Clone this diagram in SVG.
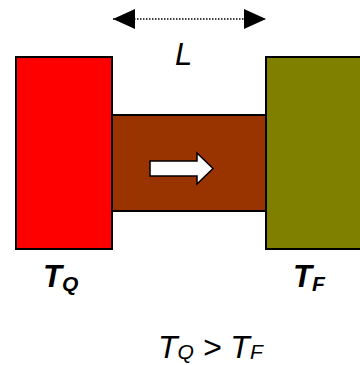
<svg xmlns="http://www.w3.org/2000/svg" width="360" height="365" viewBox="0 0 360 365">
<style>
.blk{stroke:#000;stroke-width:2}
.t{font-family:"Liberation Sans",Arial,sans-serif;font-style:italic;fill:#000}
.b{font-weight:bold}
</style>
<defs>
<marker id="ah" viewBox="0 0 22 20" refX="22" refY="10" markerWidth="22" markerHeight="20" markerUnits="userSpaceOnUse" orient="auto-start-reverse">
<path d="M0,0 L22,10 L0,20 Z" fill="#000"/>
</marker>
</defs>
<rect width="360" height="365" fill="#fff"/>
<g id="bar"><rect class="blk" x="112" y="115" width="154" height="96" fill="#993300"/></g>
<g id="hot"><rect class="blk" x="16" y="57" width="96" height="192" fill="#ff0000"/></g>
<g id="cold"><rect class="blk" x="266" y="57" width="100" height="192" fill="#808000"/></g>
<g id="flow"><path d="M150,161 H197 V153 L213,168.5 L197,184 V176 H150 Z" fill="#fff" stroke="#000" stroke-width="1.5"/></g>
<g id="connectors">
<line x1="113" y1="19" x2="266" y2="19" stroke="#000" stroke-width="1.5" stroke-dasharray="1.5,1.5" marker-start="url(#ah)" marker-end="url(#ah)"/>
</g>
<text class="t" x="175" y="65" font-size="31">L</text>
<text class="t b" x="43" y="287" font-size="31">T<tspan font-size="21" dy="4">Q</tspan></text>
<text class="t b" x="293" y="287" font-size="31">T<tspan font-size="21" dy="4">F</tspan></text>
<text class="t" x="158" y="358" font-size="32">T<tspan font-size="21" dy="1">Q</tspan><tspan dy="-1"> &gt; T</tspan><tspan font-size="21" dy="1">F</tspan></text>
</svg>
